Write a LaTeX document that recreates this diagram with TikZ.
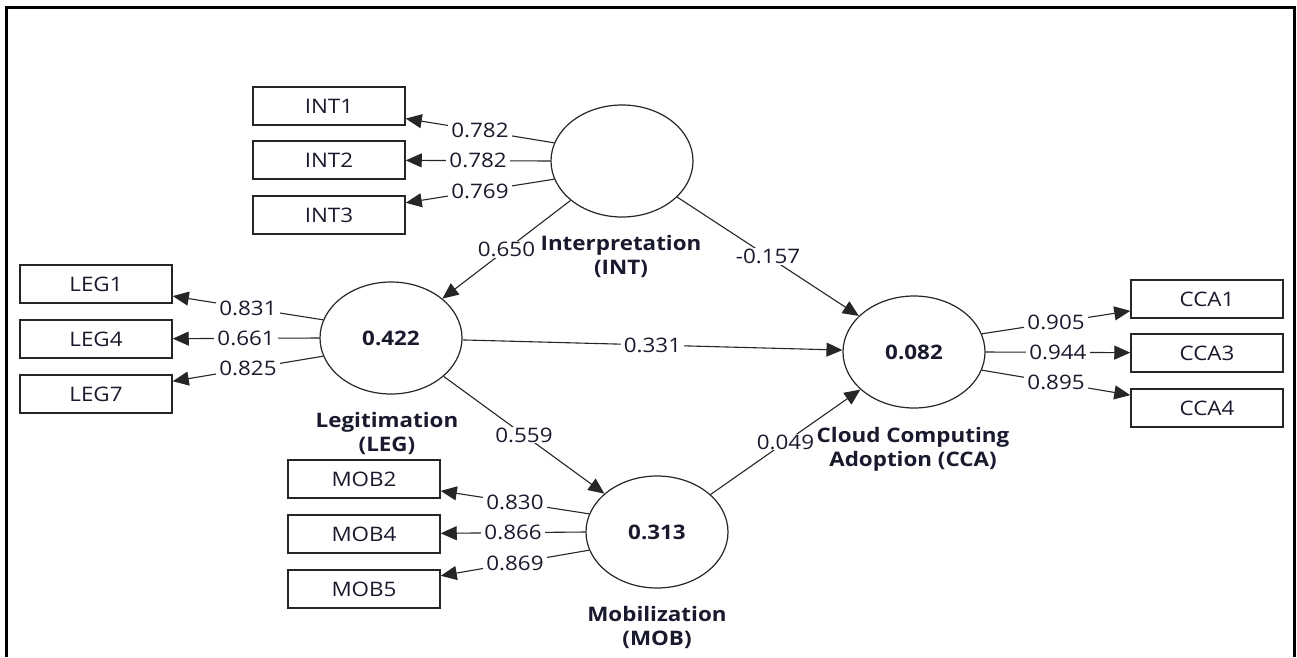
\documentclass[tikz,border=0pt]{standalone}
\usepackage{fontspec}
\setmainfont{Open Sans}[FakeStretch=1.12]
\usetikzlibrary{arrows.meta,shapes.geometric}
\definecolor{txt}{HTML}{1A1A2E}
\tikzset{
  ind/.style={draw=black!85, line width=1.5pt, minimum width=152pt, minimum height=38pt, inner sep=0pt, text=txt, font=\fontsize{20}{24}\selectfont},
  lat/.style={ellipse, draw=black!85, line width=1.2pt, minimum width=142pt, minimum height=112pt, inner sep=0pt, text=txt, font=\bfseries\fontsize{20}{24}\selectfont},
  captxt/.style={text=txt, font=\bfseries\fontsize{20}{24}\selectfont, align=center, inner sep=0pt},
  con/.style={draw=black!85, line width=1.1pt, -{Triangle[length=16pt,width=14pt]}},
  wt/.style={fill=white, text=txt, font=\fontsize{20}{24}\selectfont, inner xsep=3pt, inner ysep=1pt, midway}
}
\begin{document}
\begin{tikzpicture}[x=1pt,y=-1pt]
\useasboundingbox (0,0) rectangle (1297,657);
\fill[white] (0,0) rectangle (1297,657);
\draw[line width=3pt] (6.5,657) -- (6.5,7.5) -- (1294.5,7.5) -- (1294.5,657);

% latent variables
\node[lat] (INT) at (622,161) {};
\node[lat] (LEG) at (391,338) {0.422};
\node[lat] (MOB) at (657,532) {0.313};
\node[lat] (CCA) at (914,352) {0.082};

% indicators
\node[ind] (INT1) at (329,106) {INT1};
\node[ind] (INT2) at (329,160) {INT2};
\node[ind] (INT3) at (329,215) {INT3};
\node[ind] (LEG1) at (96,284) {LEG1};
\node[ind] (LEG4) at (96,339) {LEG4};
\node[ind] (LEG7) at (96,394) {LEG7};
\node[ind] (MOB2) at (364,479) {MOB2};
\node[ind] (MOB4) at (364,534) {MOB4};
\node[ind] (MOB5) at (364,589) {MOB5};
\node[ind] (CCA1) at (1207,299) {CCA1};
\node[ind] (CCA3) at (1207,353) {CCA3};
\node[ind] (CCA4) at (1207,408) {CCA4};

% outer loadings
\draw[con] (INT.165) -- node[wt]{0.782} (INT1);
\draw[con] (INT.180) -- node[wt]{0.782} (INT2);
\draw[con] (INT.195) -- node[wt]{0.769} (INT3);
\draw[con] (LEG.165) -- node[wt]{0.831} (LEG1);
\draw[con] (LEG.180) -- node[wt]{0.661} (LEG4);
\draw[con] (LEG.195) -- node[wt]{0.825} (LEG7);
\draw[con] (MOB.165) -- node[wt]{0.830} (MOB2);
\draw[con] (MOB.180) -- node[wt]{0.866} (MOB4);
\draw[con] (MOB.195) -- node[wt]{0.869} (MOB5);
\draw[con] (CCA.15) -- node[wt]{0.905} (CCA1);
\draw[con] (CCA.0) -- node[wt]{0.944} (CCA3);
\draw[con] (CCA.345) -- node[wt]{0.895} (CCA4);

% paths
\draw[con] (INT) -- node[wt]{0.650} (LEG);
\draw[con] (INT) -- node[wt]{-0.157} (CCA);
\draw[con] (LEG) -- node[wt]{0.331} (CCA);
\draw[con] (LEG) -- node[wt]{0.559} (MOB);
\draw[con] (MOB) -- node[wt]{0.049} (CCA);

% captions (on top)
\node[captxt] (INTc) at (621,256) {Interpretation\\(INT)};
\node[captxt] (LEGc) at (387,433) {Legitimation\\(LEG)};
\node[captxt] (MOBc) at (657,627) {Mobilization\\(MOB)};
\node[captxt] (CCAc) at (913,449) {Cloud Computing\\Adoption (CCA)};
\end{tikzpicture}
\end{document}
